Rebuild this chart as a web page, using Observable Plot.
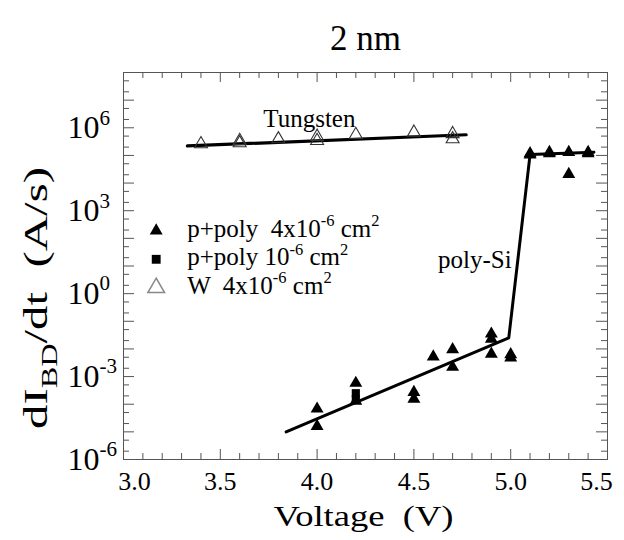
<!DOCTYPE html>
<html><head><meta charset="utf-8">
<script src="https://cdn.jsdelivr.net/npm/d3@7"></script>
<script src="https://cdn.jsdelivr.net/npm/@observablehq/plot@0.6"></script>
<style>
body{margin:0;background:#fff;}
svg text{white-space:pre;}
</style></head><body><div id="chart"></div>
<script>
// ---------- data ----------
// Tungsten gate (open triangles), W 4x10^-6 cm^2
const tungstenV   = [3.4, 3.6, 3.6, 3.8, 4.0, 4.0, 4.2, 4.5, 4.7, 4.7];
const tungstenVal = [2.6e5, 3.4e5, 2.8e5, 3.9e5, 4.8e5, 3.4e5, 5.6e5, 6.8e5, 6.0e5, 3.9e5];
// p+poly 4x10^-6 cm^2 (filled triangles)
const polyV   = [4.0, 4.0, 4.2, 4.2, 4.5, 4.5, 4.6, 4.7, 4.7, 4.9, 4.9, 4.9, 5.0, 5.0,
                 5.1, 5.1, 5.2, 5.2, 5.3, 5.3, 5.4, 5.4];
const polyVal = [6.8e-5, 1.6e-5, 5.8e-4, 1.3e-4, 2.7e-4, 1.55e-4, 5.2e-3, 9.5e-3, 2.2e-3,
                 3.5e-2, 2.3e-2, 6.6e-3, 6.3e-3, 4.8e-3,
                 1.17e5, 1.05e5, 1.17e5, 1.3e5, 1.3e5, 2.1e4, 1.3e5, 1.17e5];
// p+poly 10^-6 cm^2 (filled squares)
const smallV   = [4.2, 4.2];
const smallVal = [2.5e-4, 1.5e-4];
// fit lines
const tungstenFitV   = [3.33, 4.77];
const tungstenFitVal = [2.2e5, 5.6e5];
const polyFitV   = [3.84, 4.99, 5.10, 5.43];
const polyFitVal = [1.0e-5, 2.5e-2, 1.07e5, 1.3e5];
// annotations
const noteText = ["Tungsten", "poly-Si"];
const noteV    = [3.96, 4.815];
const noteVal  = [2.1e6, 17];
// legend
const legendLabels = ["p+poly  4x10^{-6} cm^{2}", "p+poly 10^{-6} cm^{2}", "W  4x10^{-6} cm^{2}"];
// titles
const titleText = "2 nm";
const xLabelText = "Voltage  (V)";
const yLabelText = "dI_{BD}/dt  (A/s)";
// ticks
const xTickLabels = [3.5, 4.0, 4.5, 5.0];
const xEndLabelLeft = [3.0], xEndLabelRight = [5.5];
const xMajorTicks = [3.0, 3.5, 4.0, 4.5, 5.0, 5.5];
const xMinorTicks = [3.1,3.2,3.3,3.4,3.6,3.7,3.8,3.9,4.1,4.2,4.3,4.4,4.6,4.7,4.8,4.9,5.1,5.2,5.3,5.4];
const yTickLabels = [1e-6, 1e-3, 1e0, 1e3, 1e6];
const yMajorTicks = [1e-6,1e-5,1e-4,1e-3,1e-2,1e-1,1e0,1e1,1e2,1e3,1e4,1e5,1e6,1e7,1e8];
const yMinorTicks = [2e-6,5e-6,2e-5,5e-5,2e-4,5e-4,2e-3,5e-3,2e-2,5e-2,2e-1,5e-1,2,5,20,50,
                     200,500,2e3,5e3,2e4,5e4,2e5,5e5,2e6,5e6,2e7,5e7];

const zip = (xs, ys) => xs.map((x, i) => ({x, y: ys[i]}));
const tungsten = zip(tungstenV, tungstenVal);
const poly = zip(polyV, polyVal);
const small = zip(smallV, smallVal);
const tungstenFit = zip(tungstenFitV, tungstenFitVal);
const polyFit = zip(polyFitV, polyFitVal);
const notes = noteText.map((t, i) => ({t, x: noteV[i], y: noteVal[i]}));

// ---------- layout ----------
const W = 624, H = 540, mt = 72, mb = 81, ml = 123, mr = 17;
const fw = W - ml - mr, fh = H - mt - mb;
const tc = "#555";
const FONT = "Liberation Serif";
// stretched text lengths (px) to match the original's wide lettering
const stretch = {[xLabelText]: 180, [yLabelText]: 262};

const legendSym = [
  {symbol: "triangle", fill: "black", stroke: "none", r: 4.8},
  {symbol: "square", fill: "black", stroke: "none", r: 5},
  {symbol: "triangle", fill: "none", stroke: "#888", r: 6.2}
];

const plot = Plot.plot({
  width: W, height: H,
  marginTop: mt, marginBottom: mb, marginLeft: ml, marginRight: mr,
  style: {background: "white", color: "black", overflow: "visible"},
  x: {domain: [3, 5.5]},
  y: {type: "log", domain: [1e-6, 1e8]},
  marks: [
    // inward ticks on all four sides
    Plot.tickX(xMajorTicks, {x: d => d, insetTop: fh - 10, stroke: tc}),
    Plot.tickX(xMinorTicks, {x: d => d, insetTop: fh - 6, stroke: tc}),
    Plot.tickX(xMajorTicks, {x: d => d, insetBottom: fh - 10, stroke: tc}),
    Plot.tickX(xMinorTicks, {x: d => d, insetBottom: fh - 6, stroke: tc}),
    Plot.tickY(yMajorTicks, {y: d => d, insetRight: fw - 11, stroke: tc}),
    Plot.tickY(yMinorTicks, {y: d => d, insetRight: fw - 6, stroke: tc}),
    Plot.tickY(yMajorTicks, {y: d => d, insetLeft: fw - 11, stroke: tc}),
    Plot.tickY(yMinorTicks, {y: d => d, insetLeft: fw - 6, stroke: tc}),
    Plot.frame({stroke: tc}),
    // axes labels
    Plot.axisX({ticks: xTickLabels, tickSize: 0, tickPadding: 12, fontSize: 26, fontFamily: FONT, label: null, tickFormat: d => d.toFixed(1)}),
    Plot.axisX({ticks: xEndLabelLeft, tickSize: 0, tickPadding: 12, fontSize: 26, fontFamily: FONT, label: null, dx: 11, tickFormat: d => d.toFixed(1)}),
    Plot.axisX({ticks: xEndLabelRight, tickSize: 0, tickPadding: 12, fontSize: 26, fontFamily: FONT, label: null, dx: -11, tickFormat: d => d.toFixed(1)}),
    Plot.axisY({ticks: yTickLabels, tickSize: 0, tickPadding: 56, textAnchor: "start", fontSize: 32, fontFamily: FONT, label: null,
      tickFormat: d => "10^{" + Math.round(Math.log10(d)) + "}"}),
    Plot.text([xLabelText], {frameAnchor: "bottom", dx: -92, dy: 57, textAnchor: "start", fontSize: 29, fontFamily: FONT, lineAnchor: "middle"}),
    Plot.text([yLabelText], {frameAnchor: "left", dx: -87, dy: 163, rotate: -90, textAnchor: "start", fontSize: 34, fontFamily: FONT, lineAnchor: "middle"}),
    Plot.text([titleText], {frameAnchor: "top", dy: -34, fontSize: 35, fontFamily: FONT, lineAnchor: "middle"}),
    // fit lines
    Plot.line(tungstenFit, {x: "x", y: "y", stroke: "black", strokeWidth: 3.2}),
    Plot.line(polyFit, {x: "x", y: "y", stroke: "black", strokeWidth: 3}),
    // data
    Plot.dot(tungsten, {x: "x", y: "y", symbol: "triangle", r: 4.8, fill: "none", stroke: "#333", strokeWidth: 1.1}),
    Plot.dot(poly, {x: "x", y: "y", symbol: "triangle", r: 4.8, fill: "black"}),
    Plot.dot(small, {x: "x", y: "y", symbol: "square", r: 4.6, fill: "black"}),
    // annotations
    Plot.text(notes, {x: "x", y: "y", text: "t", fontSize: 25, fontFamily: FONT, lineAnchor: "middle"}),
    // legend
    ...legendLabels.map((lab, i) => Plot.dot([lab], {frameAnchor: "top-left", dx: 32.7, dy: 158.3 + i * 28.5, ...legendSym[i]})),
    ...legendLabels.map((lab, i) => Plot.text([lab], {frameAnchor: "top-left", dx: 63.7, dy: 156 + i * 28.5, textAnchor: "start", lineAnchor: "middle", fontSize: 25, fontFamily: FONT}))
  ]
});

plot.setAttribute("font-family", FONT);
document.getElementById("chart").appendChild(plot);

// rich text: ^{...} superscript, _{...} subscript
function rich(el) {
  el.setAttribute("font-family", FONT);
  el.setAttribute("xml:space", "preserve");
  const s = el.textContent;
  if (stretch[s]) {
    el.setAttribute("textLength", stretch[s]);
    el.setAttribute("lengthAdjust", "spacingAndGlyphs");
  }
  if (!/[\^_]\{/.test(s)) return;
  const fs = parseFloat(getComputedStyle(el).fontSize) || 26;
  el.textContent = "";
  const re = /([\^_])\{([^}]*)\}/g;
  let last = 0, m, shift = 0;
  const add = (str, mode) => {
    const t = document.createElementNS("http://www.w3.org/2000/svg", "tspan");
    t.textContent = str;
    t.setAttribute("font-family", FONT);
    const target = mode === "^" ? -0.42 * fs : mode === "_" ? 0.28 * fs : 0;
    if (target - shift !== 0) t.setAttribute("dy", target - shift);
    shift = target;
    if (mode) t.setAttribute("font-size", 0.66 * fs);
    el.appendChild(t);
  };
  while ((m = re.exec(s))) {
    if (m.index > last) add(s.slice(last, m.index), null);
    add(m[2], m[1]);
    last = re.lastIndex;
  }
  if (last < s.length) add(s.slice(last), null);
}
d3.select(plot).selectAll("text").each(function () { rich(this); });
</script></body></html>
